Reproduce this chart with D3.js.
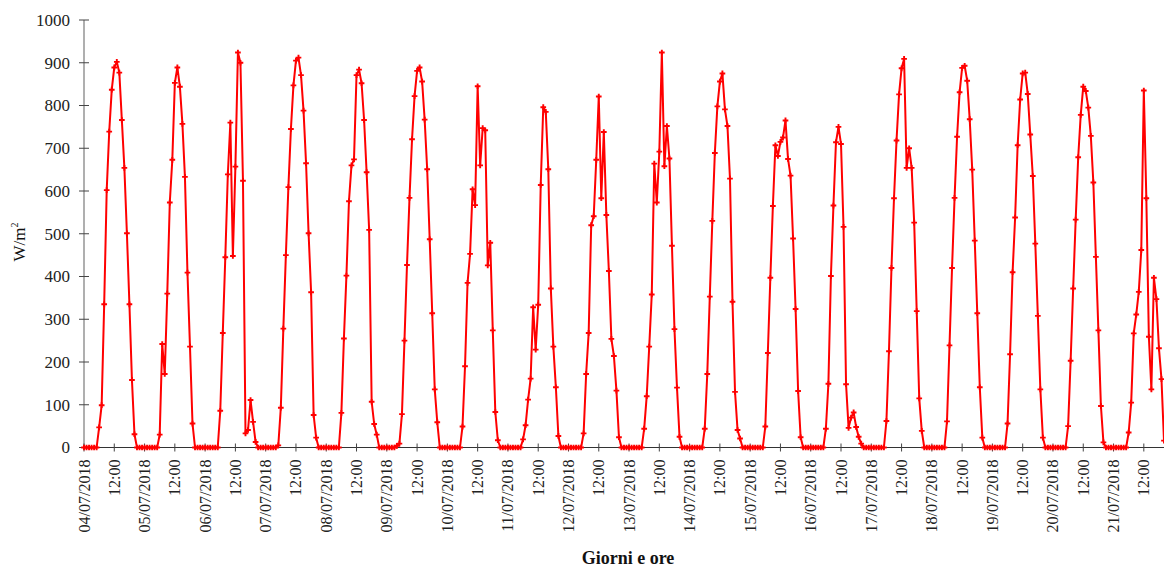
<!DOCTYPE html>
<html><head><meta charset="utf-8">
<script src="https://cdn.jsdelivr.net/npm/d3@7"></script>
<style>
body{margin:0;background:#fff;}
</style></head>
<body>
<svg id="chart" width="1164" height="567"></svg>
<script>
// Hourly global irradiance (W/m²), one array per day, hours 00..23
const dayLabels = ["04/07/2018","05/07/2018","06/07/2018","07/07/2018","08/07/2018","09/07/2018","10/07/2018","11/07/2018","12/07/2018","13/07/2018","14/07/2018","15/07/2018","16/07/2018","17/07/2018","18/07/2018","19/07/2018","20/07/2018","21/07/2018"];
const day04 = [0,0,0,0,0,0,47,99,335,602,739,837,889,902,877,766,654,501,335,158,31,0,0,0];
const day05 = [0,0,0,0,0,0,30,242,172,360,573,673,853,889,844,757,633,409,236,56,0,0,0,0];
const day06 = [0,0,0,0,0,0,86,268,445,639,760,448,657,924,900,624,33,41,111,60,13,0,0,0];
const day07 = [0,0,0,0,0,5,93,278,450,609,745,847,905,912,871,788,665,501,363,76,23,0,0,0];
const day08 = [0,0,0,0,0,0,81,255,402,576,660,674,871,884,852,766,644,509,107,55,30,0,0,0];
const day09 = [0,0,0,0,4,9,78,250,427,584,721,822,881,889,856,767,651,487,314,136,59,0,0,0];
const day10 = [0,0,0,0,0,0,49,190,385,453,604,567,845,660,747,742,426,479,274,83,17,0,0,0];
const day11 = [0,0,0,0,0,0,19,52,112,161,328,229,334,614,796,785,651,372,236,141,27,0,0,0];
const day12 = [0,0,0,0,0,0,33,172,268,520,541,673,821,583,738,544,413,254,214,133,24,0,0,0];
const day13 = [0,0,0,0,0,0,44,120,236,358,664,573,692,924,658,752,676,472,277,140,25,0,0,0];
const day14 = [0,0,0,0,0,0,44,172,353,530,689,798,856,875,791,752,629,341,130,41,21,0,0,0];
const day15 = [0,0,0,0,0,0,49,221,397,565,707,682,715,725,765,675,636,489,324,132,24,0,0,0];
const day16 = [0,0,0,0,0,0,44,149,401,566,714,750,710,516,148,46,70,82,48,25,9,0,0,0];
const day17 = [0,0,0,0,0,0,62,225,420,583,718,826,887,909,654,700,654,526,319,115,39,0,0,0];
const day18 = [0,0,0,0,0,0,61,239,420,584,727,831,888,893,858,768,650,484,314,141,23,0,0,0];
const day19 = [0,0,0,0,0,0,56,218,410,538,707,814,875,877,827,732,635,477,308,136,23,0,0,0];
const day20 = [0,0,0,0,0,0,50,203,372,533,679,778,844,834,795,729,620,446,274,97,12,0,0,0];
const day21 = [0,0,0,0,0,0,35,105,267,311,364,462,835,583,259,136,397,347,232,160,16];
const yTicks = [0,100,200,300,400,500,600,700,800,900,1000];
const yTitle = "W/m";
const xTitle = "Giorni e ore";

const FONT = "Liberation Serif";
const days = [day04,day05,day06,day07,day08,day09,day10,day11,day12,day13,day14,day15,day16,day17,day18,day19,day20,day21];
const start = new Date(2018, 6, 4, 0, 0);
const data = [];
days.forEach((arr, d) => arr.forEach((v, h) => data.push({t: new Date(2018, 6, 4 + d, h), v})));

const svg = d3.select("#chart");
const x = d3.scaleTime().domain([start, data[data.length-1].t]).range([84, 1164]);
const y = d3.scaleLinear().domain([0, 1000]).range([447.5, 20]);

// Y axis
const yAxis = svg.append("g").attr("transform", "translate(84,0)");
yAxis.append("line").attr("y1", y(0)).attr("y2", y(1000)).attr("stroke", "#7a7a7a").attr("stroke-width", 1.2);
yTicks.forEach(t => {
  yAxis.append("line").attr("x1", -5).attr("x2", 5).attr("y1", y(t)).attr("y2", y(t)).attr("stroke", "#444").attr("stroke-width", 1);
  yAxis.append("text").attr("x", -14).attr("y", y(t)).attr("dy", "0.35em").attr("text-anchor", "end")
    .attr("font-family", FONT).attr("font-size", 17).attr("fill", "#222").text(t);
});

// X axis
const xTicks = d3.timeHour.every(12).range(start, new Date(x.domain()[1].getTime() + 1));
const xAxis = svg.append("g");
xAxis.append("line").attr("x1", 84).attr("x2", 1164).attr("y1", y(0)).attr("y2", y(0)).attr("stroke", "#333").attr("stroke-width", 1.2);
xTicks.forEach((t, i) => {
  const px = x(t);
  xAxis.append("line").attr("x1", px).attr("x2", px).attr("y1", y(0) - 4).attr("y2", y(0) + 4).attr("stroke", "#444");
  const label = t.getHours() === 0 ? dayLabels[Math.round((t - start) / 864e5)] : "12:00";
  xAxis.append("text").attr("transform", `translate(${px + 5.5},${y(0) + 12}) rotate(-90)`)
    .attr("text-anchor", "end").attr("font-family", FONT).attr("font-size", 16).attr("fill", "#222").text(label);
});

// Line
svg.append("path").datum(data)
  .attr("d", d3.line().x(d => x(d.t)).y(d => y(d.v)))
  .attr("fill", "none").attr("stroke", "#ff0000").attr("stroke-width", 2).attr("stroke-linejoin", "round");

// Markers
const sym = d3.symbol().type(d3.symbolCross).size(18);
svg.append("g").selectAll("path").data(data).join("path")
  .attr("transform", d => `translate(${x(d.t)},${y(d.v)})`)
  .attr("d", sym).attr("fill", "#ff0000");

// Titles
const yt = svg.append("text").attr("transform", "translate(25,242) rotate(-90)").attr("text-anchor", "middle")
  .attr("font-family", FONT).attr("font-size", 17).attr("fill", "#111");
yt.append("tspan").text(yTitle);
yt.append("tspan").attr("font-size", 10).attr("dy", -7).text("2");
svg.append("text").attr("x", 628).attr("y", 564).attr("text-anchor", "middle").attr("font-size", 18)
  .attr("font-family", FONT).attr("font-weight", "bold").attr("fill", "#111").text(xTitle);
</script>
</body></html>
